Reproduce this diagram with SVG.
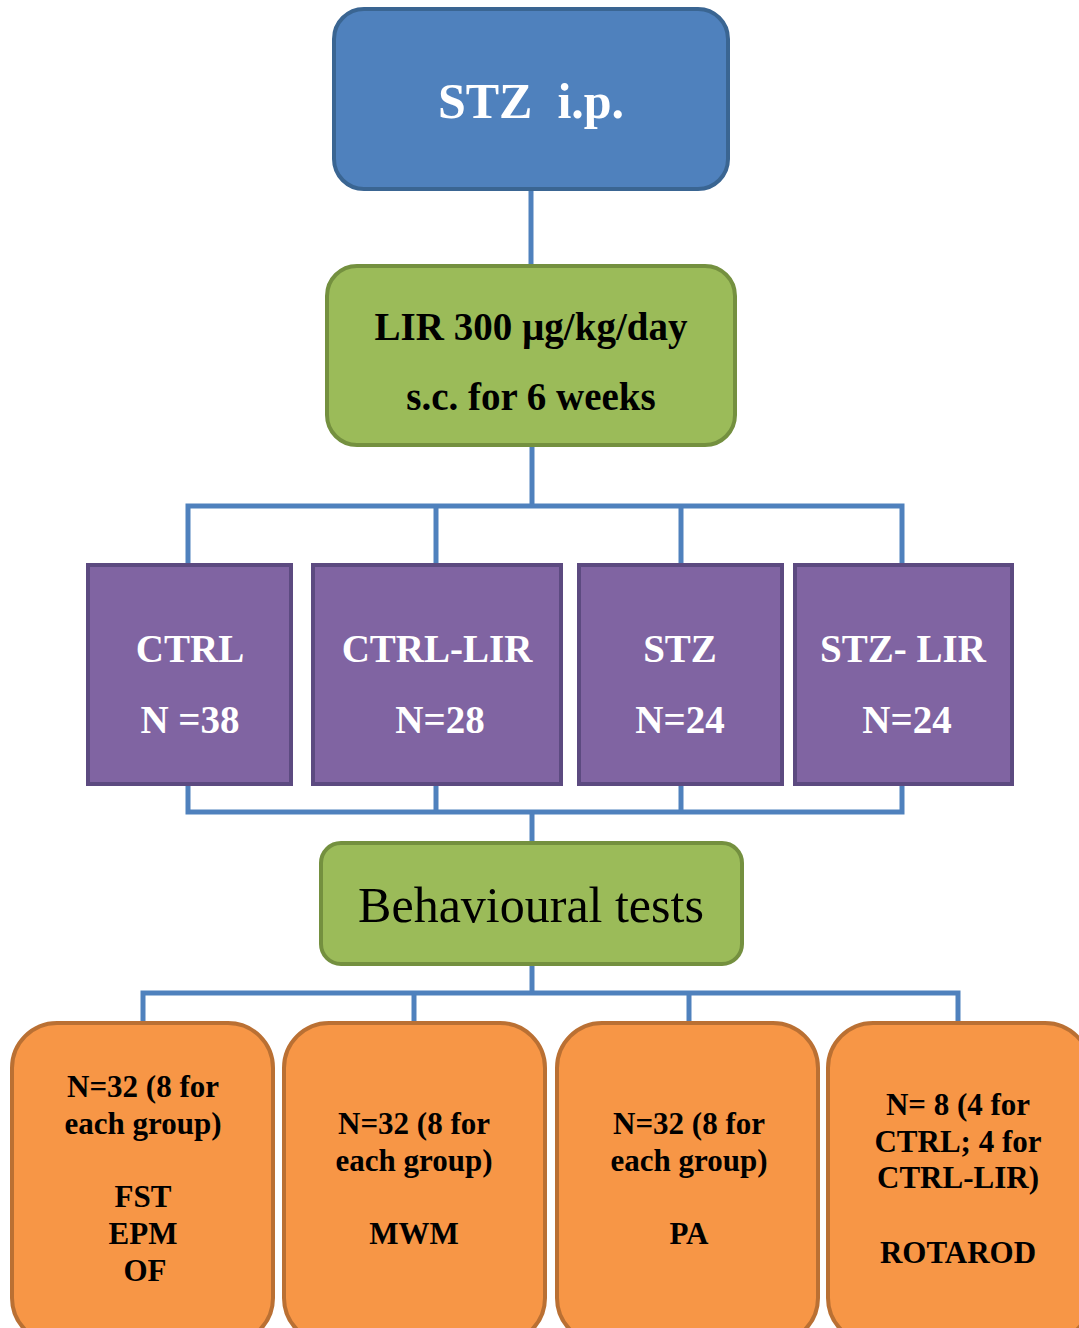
<svg xmlns="http://www.w3.org/2000/svg" width="1079" height="1328" viewBox="0 0 1079 1328">
<style>
.bg{fill:#ffffff}
.conn{fill:none;stroke:#4F81BD;stroke-width:5;stroke-linejoin:miter}
.blue{fill:#4F81BD;stroke:#3A6592;stroke-width:4}
.green{fill:#9BBB59;stroke:#74903F;stroke-width:4}
.purple{fill:#8064A2;stroke:#5C4A80;stroke-width:4}
.orange{fill:#F79646;stroke:#BA7033;stroke-width:4}
text{font-family:"Liberation Serif","Times New Roman",serif;text-anchor:middle}
.w{fill:#ffffff;font-weight:bold}
.b{fill:#000000;font-weight:bold}
.o{font-size:31px}
</style>
<rect class="bg" x="0" y="0" width="1079" height="1328"/>
<g id="connectors">
<path class="conn" d="M531 190 V265"/>
<path class="conn" d="M532 445 V506"/>
<path class="conn" d="M188 564 V506 H902 V564"/>
<path class="conn" d="M436 506 V564"/>
<path class="conn" d="M681 506 V564"/>
<path class="conn" d="M188 785 V812 H902 V785"/>
<path class="conn" d="M436 785 V812"/>
<path class="conn" d="M681 785 V812"/>
<path class="conn" d="M532 812 V843"/>
<path class="conn" d="M532 965 V993"/>
<path class="conn" d="M143 1023 V993 H958 V1023"/>
<path class="conn" d="M414 993 V1023"/>
<path class="conn" d="M689 993 V1023"/>
</g>
<g id="stz-ip">
<rect class="blue" x="334" y="9" width="394" height="180" rx="30" ry="30"/>
<text class="w" x="531" y="118" font-size="50" xml:space="preserve">STZ  i.p.</text>
</g>
<g id="lir">
<rect class="green" x="327" y="266" width="408" height="179" rx="30" ry="30"/>
<text class="b" x="531" y="340" font-size="39">LIR 300 µg/kg/day</text>
<text class="b" x="531" y="410" font-size="39">s.c. for 6 weeks</text>
</g>
<g id="ctrl">
<rect class="purple" x="88" y="565" width="203" height="219"/>
<text class="w" x="190" y="662" font-size="39">CTRL</text>
<text class="w" x="190" y="733" font-size="39">N =38</text>
</g>
<g id="ctrl-lir">
<rect class="purple" x="313" y="565" width="248" height="219"/>
<text class="w" x="437" y="662" font-size="39">CTRL-LIR</text>
<text class="w" x="440" y="733" font-size="39">N=28</text>
</g>
<g id="stz">
<rect class="purple" x="579" y="565" width="203" height="219"/>
<text class="w" x="680" y="662" font-size="39">STZ</text>
<text class="w" x="680" y="733" font-size="39">N=24</text>
</g>
<g id="stz-lir">
<rect class="purple" x="795" y="565" width="217" height="219"/>
<text class="w" x="903" y="662" font-size="39" xml:space="preserve">STZ- LIR</text>
<text class="w" x="907" y="733" font-size="39">N=24</text>
</g>
<g id="behavioural">
<rect class="green" x="321" y="843" width="421" height="121" rx="20" ry="20"/>
<text x="531" y="922" font-size="50" fill="#000000">Behavioural tests</text>
</g>
<g id="test1">
<rect class="orange" x="12" y="1023" width="261" height="320" rx="45" ry="45"/>
<text class="b o" x="143" y="1097">N=32 (8 for</text>
<text class="b o" x="143" y="1134">each group)</text>
<text class="b o" x="143" y="1207">FST</text>
<text class="b o" x="143" y="1244">EPM</text>
<text class="b o" x="145" y="1281">OF</text>
</g>
<g id="test2">
<rect class="orange" x="284" y="1023" width="261" height="320" rx="45" ry="45"/>
<text class="b o" x="414" y="1134">N=32 (8 for</text>
<text class="b o" x="414" y="1171">each group)</text>
<text class="b o" x="414" y="1244">MWM</text>
</g>
<g id="test3">
<rect class="orange" x="557" y="1023" width="261" height="320" rx="45" ry="45"/>
<text class="b o" x="689" y="1134">N=32 (8 for</text>
<text class="b o" x="689" y="1171">each group)</text>
<text class="b o" x="689" y="1244">PA</text>
</g>
<g id="test4">
<rect class="orange" x="828" y="1023" width="262" height="320" rx="45" ry="45"/>
<text class="b o" x="958" y="1115">N= 8 (4 for</text>
<text class="b o" x="958" y="1152">CTRL; 4 for</text>
<text class="b o" x="958" y="1188">CTRL-LIR)</text>
<text class="b o" x="958" y="1263">ROTAROD</text>
</g>
</svg>
